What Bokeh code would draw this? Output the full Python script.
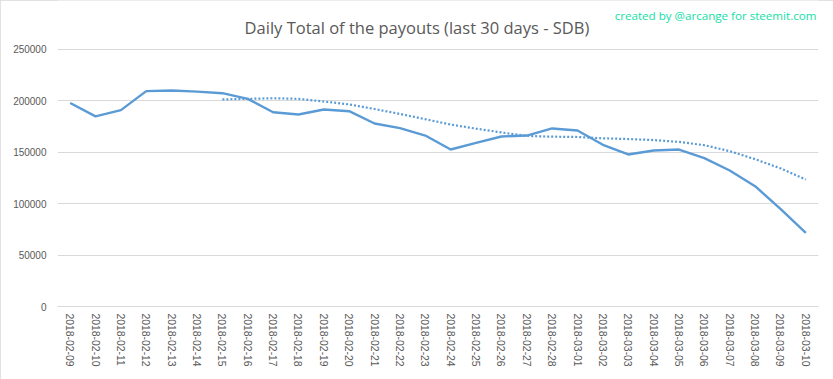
from bokeh.plotting import figure
from bokeh.models import FactorRange, Range1d, Label, FixedTicker, NumeralTickFormatter
from bokeh.embed import file_html
from bokeh.resources import INLINE

dates = ["2018-02-09", "2018-02-10", "2018-02-11", "2018-02-12", "2018-02-13", "2018-02-14",
         "2018-02-15", "2018-02-16", "2018-02-17", "2018-02-18", "2018-02-19", "2018-02-20",
         "2018-02-21", "2018-02-22", "2018-02-23", "2018-02-24", "2018-02-25", "2018-02-26",
         "2018-02-27", "2018-02-28", "2018-03-01", "2018-03-02", "2018-03-03", "2018-03-04",
         "2018-03-05", "2018-03-06", "2018-03-07", "2018-03-08", "2018-03-09", "2018-03-10"]

payouts = [198000, 185000, 191000, 209500, 210100, 209000,
           207500, 202000, 189000, 186800, 191600, 190000,
           178000, 173500, 166300, 152700, 159200, 165400,
           166300, 173200, 171200, 157300, 147900, 151800,
           152700, 144300, 132300, 117000, 95000, 71700]

trend_dates = dates[6:]
trend = [201400, 202000, 202600, 202000, 199400, 196600,
         192100, 187300, 182200, 177000, 173000, 169300,
         165900, 165200, 164900, 163600, 162900, 161900,
         160100, 156900, 151100, 143300, 134400, 123500]

y_ticks = [0, 50000, 100000, 150000, 200000, 250000]

title_text = "Daily Total of the payouts (last 30 days - SDB)"
credit_text = "created by @arcange for steemit.com"

# frame reaches the top of the canvas so the header texts sit inside it
Y_TOP = 297665

p = figure(width=833, height=379, output_backend="svg", toolbar_location=None,
           x_range=FactorRange(*dates, range_padding=0), y_range=Range1d(0, Y_TOP),
           min_border_left=57, min_border_right=15, min_border_top=0, min_border_bottom=73)

p.outline_line_color = None
p.background_fill_color = "white"
p.border_fill_color = "white"
p.styles = {"outline": "1px solid #d9d9d9", "outline-offset": "-1px"}

p.line(dates, payouts, line_color="#5b9bd5", line_width=2.4)
p.line(trend_dates, trend, line_color="#5b9bd5", line_width=2.2, line_dash="2 2")

p.xgrid.grid_line_color = None
p.ygrid.grid_line_color = "#d9d9d9"
p.ygrid.grid_line_width = 1
p.yaxis.ticker = FixedTicker(ticks=y_ticks)
p.yaxis.formatter = NumeralTickFormatter(format="0")

for ax in (p.xaxis, p.yaxis):
    ax.axis_line_color = None
    ax.major_tick_line_color = None
    ax.minor_tick_line_color = None
    ax.major_tick_out = 0
    ax.major_tick_in = 0
    ax.major_label_text_color = "#595959"
    ax.major_label_text_font = "Liberation Sans"
    ax.major_label_text_font_size = "10px"

p.xaxis.axis_line_color = "#d9d9d9"
p.xaxis.axis_line_width = 1
p.yaxis.major_label_standoff = 11
p.xaxis.major_label_standoff = 7
p.xaxis.major_label_orientation = "vertical"
p.xaxis.major_label_text_font_size = "10.4px"

p.add_layout(Label(x=14.17, y=271400, text=title_text, text_align="center",
                   text_baseline="alphabetic", text_font="Open Sans",
                   text_font_size="16.5px", text_color="#595959"))
p.add_layout(Label(x=29.92, y=283070, text=credit_text, text_align="right",
                   text_baseline="alphabetic", text_font="Open Sans",
                   text_font_size="11.6px", text_color="#13e0a6"))

open("out.html", "w").write(file_html(p, INLINE))
